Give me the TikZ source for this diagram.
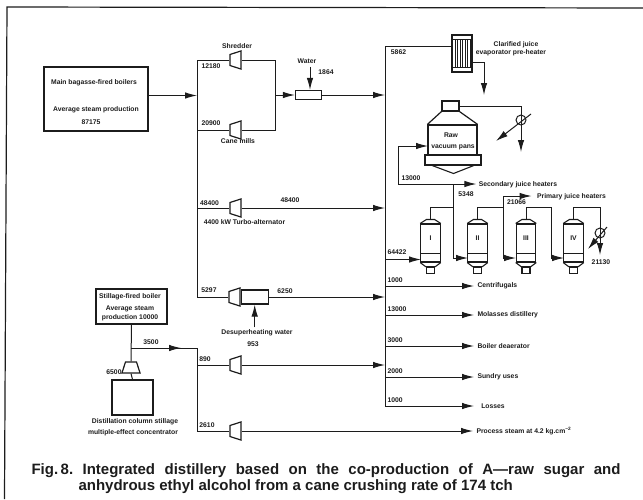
\documentclass[tikz,border=0pt]{standalone}
\usepackage{fontspec}
\setmainfont{Liberation Sans}
\usetikzlibrary{arrows.meta, shapes.geometric, calc}
\definecolor{cink}{HTML}{1C1C1C}
\tikzset{
  every picture/.style={line width=1pt, cink},
  pipe/.style={line width=1pt, draw=cink},
  flow/.style={pipe, -{Latex[length=12pt,width=6.5pt]}},
  plant/.style={draw=cink, line width=#1, inner sep=0pt, align=center},
  plant/.default=1pt,
  turbine/.style={trapezium, draw=cink, line width=1.2pt, trapezium angle=72, inner sep=0.5pt, minimum width=6pt, minimum height=11pt},
  hturbine/.style={turbine, rotate=90},
  lbl/.style={font=\fontsize{6.8}{8}\selectfont\bfseries, inner sep=0pt, align=center},
  dest/.style={lbl, anchor=west},
}
\begin{document}
\begin{tikzpicture}[x=1pt, y=-1pt]
  \useasboundingbox (0,0) rectangle (643,499);
  % frame
  \coordinate (frameTL) at (7,7);
  \coordinate (frameBL) at (4.5,499);
  \coordinate (frameTR) at (643,8);
  \draw[line width=1.2pt] (frameBL) -- (frameTL) -- (frameTR);

  % boilers and equipment
  \node[plant=1.5pt, minimum width=104, minimum height=64] (mainboiler) at (96,99) {};
  \node[lbl] at (94,83) {Main bagasse-fired boilers};
  \node[lbl] at (96,110) {Average steam production};
  \node[lbl] at (91,122) {87175};
  \node[hturbine] (shredder) at (235.5,60) {};
  \node[lbl] at (237,46) {Shredder};
  \node[hturbine] (mills) at (235.5,130) {};
  \node[lbl] at (238,141) {Cane mills};
  \node[plant=1.2pt, minimum width=26, minimum height=9] (mixer) at (308.5,95) {};
  \node[lbl] (water) at (307,61) {Water};
  \node[lbl] at (326,72) {1864};
  \node[hturbine] (alternator) at (235.5,208) {};
  \node[lbl] at (244.5,222) {4400 kW Turbo-alternator};
  \node[hturbine] (desup) at (234.5,297) {};
  \node[plant=1.2pt, minimum width=27, minimum height=14, anchor=west] (desupbody) at (desup.south) {};
  \node[lbl] (desupwater) at (257,333) {Desuperheating water};
  \node[lbl] at (253,344) {953};
  \node[plant=1.5pt, minimum width=71, minimum height=35] (stillboiler) at (131.5,306.5) {};
  \node[lbl] at (130,297) {Stillage-fired boiler};
  \node[lbl] at (130,309) {Average steam};
  \node[lbl] at (130,318) {production 10000};
  \node[turbine] (conturbine) at (131,367.5) {};
  \node[plant=1.3pt, minimum width=41, minimum height=35] (concentrator) at (132.5,397.5) {};
  \node[lbl] at (135,422) {Distillation column stillage};
  \node[lbl] at (133,433) {multiple-effect concentrator};
  \node[lbl] at (114,372) {6500};
  \node[hturbine] (turbineC) at (235.5,365) {};
  \node[hturbine] (turbineD) at (235.5,431) {};

  % main steam lines
  \coordinate (busAtop) at (197,60);
  \coordinate (busAbot) at (197,297);
  \coordinate (busBtop) at (385,46);
  \coordinate (busBbot) at (385,406);
  \coordinate (busCtap) at (131,348);
  \coordinate (busCtop) at (197,348);
  \coordinate (busCbot) at (197,431);
  \draw[pipe] (shredder.north) -- (busAtop) -- (busAbot) -- (desup.north);
  \draw[pipe] (mills.north) -- (mills.north -| busAtop);
  \draw[pipe] (alternator.north) -- (alternator.north -| busAtop);
  \draw[flow] (mainboiler.east |- 0,95.5) -- (197,95.5);
  \draw[pipe] (shredder.south) -- (275,60) -- (275,130) -- (mills.south);
  \draw[flow] (275,95) -- (mixer.west);
  \draw[flow] (water.south -| mixer) ++(1.5,3) -- ([xshift=1.5pt]mixer.north);
  \draw[flow] (mixer.east) -- (mixer.east -| busBtop);
  \draw[flow] (alternator.south) -- (alternator.south -| busBtop);
  \draw[flow] (desupbody.east) -- (desupbody.east -| busBtop);
  \draw[flow] (desupwater.north -| desupbody) ++(0,-2) -- (desupbody.south);
  \draw[flow] (turbineC.south) -- (turbineC.south -| busBtop);
  \draw[pipe] (busBtop) -- (busBbot);
  \draw[pipe] (stillboiler.south) -- (conturbine.north);
  \draw[pipe] (conturbine.south) -- (concentrator.north);
  \draw[pipe] (busCtap) -- (busCtop) -- (busCbot) -- (turbineD.north);
  \draw[flow] (busCtap) -- ++(50,0);
  \draw[pipe] (turbineC.north) -- (turbineC.north -| busCtop);

  % flow figures
  \node[lbl] at (211,66) {12180};
  \node[lbl] at (211,123) {20900};
  \node[lbl] at (209.5,203) {48400};
  \node[lbl] at (290,200) {48400};
  \node[lbl] at (209,290) {5297};
  \node[lbl] at (285,291) {6250};
  \node[lbl] at (151,342) {3500};
  \node[lbl] at (205,359) {890};
  \node[lbl] at (207,425) {2610};
  \node[lbl] at (398.5,52) {5862};

  % outlets of the second main
  \foreach \y/\val/\txt/\tag in {286/1000/Centrifugals/cen, 315/13000/Molasses distillery/mol, 346/3000/Boiler deaerator/dea, 377/2000/Sundry uses/sun, 406/1000/\ \ Losses/los}{
    \node[dest] (\tag) at (477,\y) {\txt};
    \node[lbl, anchor=west] at (387,\y-6) {\val};
    \draw[flow, shorten >=3pt] (\tag.west -| busBtop) -- (\tag.west);
  }
  \node[dest] (process) at (476,431) {Process steam at 4.2 kg.cm\textsuperscript{−2}};
  \draw[flow, shorten >=3pt] (turbineD.south) -- (process.west);

  % clarified juice heater
  \node[plant=1.2pt, minimum width=20, minimum height=37] (heater) at (462,53.5) {};
  \draw[line width=1pt] ([yshift=-5pt]heater.north west) -- ([yshift=-5pt]heater.north east);
  \draw[line width=1pt] ([yshift=5pt]heater.south west) -- ([yshift=5pt]heater.south east);
  \foreach \x in {455,457.5,...,470}
    \draw[line width=1pt] (\x,40) -- (\x,67);
  \node[lbl] at (516,44.5) {Clarified juice};
  \node[lbl] at (511,52.5) {evaporator pre-heater};
  \draw[pipe] (busBtop) -- (heater.west |- busBtop);
  \coordinate (heaterout) at (484,62);
  \draw[flow] (heater.east |- heaterout) -- (heaterout) -- (484,95);

  % vacuum pan
  \node[plant=1.2pt, minimum width=49, minimum height=30] (pan) at (452.5,140) {};
  \node[lbl] at (451,135) {Raw};
  \node[lbl] at (453,147) {vacuum pans};
  \node[plant=1.2pt, minimum width=17, minimum height=10] (panneck) at (450.5,106) {};
  \node[plant=1.2pt, minimum width=56, minimum height=10] (panbase) at (453,160) {};
  \draw[line width=1.2pt] (panneck.south west) -- (pan.north west);
  \draw[line width=1.2pt] (panneck.south east) -- (pan.north east);
  \draw[line width=1.1pt] ($(panbase.south west)+(8,0)$) -- (453.5,173.5) -- ($(panbase.south east)+(-8,0)$);
  \node[circle, draw=cink, line width=1pt, minimum size=10, inner sep=0pt] (cond) at (521,120) {};
  \draw[flow] (panneck.east) -- (521,106) -- (521,152);
  \draw[flow] (531,114) -- (496,141);
  \coordinate (panfeed) at (398,146);
  \coordinate (sectap) at (398,184);
  \draw[flow] (sectap) -- (panfeed) -- (428,146);
  \node[lbl] (secondary) at (518,185) {Secondary juice heaters};
  \draw[flow, shorten >=2pt] (sectap) -- (secondary.west |- sectap);
  \node[lbl] at (411,178) {13000};
  \node[lbl] at (466,194) {5348};
  \node[lbl] at (516.5,202) {21066};
  \node[lbl] (primary) at (571.5,197) {Primary juice heaters};

  % evaporator bodies
  \foreach \tag/\x/\num in {evI/430.5/I, evII/477.5/II, evIII/526/III, evIV/573.5/IV}{
    \node[draw=cink, line width=1.1pt, minimum width=19.5, minimum height=38, inner sep=0pt] (\tag) at (\x,243) {};
    \node[lbl] at (\x,238) {\num};
    \draw[line width=1.1pt] (\tag.north west) -- ($(\tag.north)+(-4,-4)$) -- ($(\tag.north)+(4,-4)$) -- (\tag.north east);
    \draw[line width=1.1pt] ([yshift=9pt]\tag.south west) -- ([yshift=9pt]\tag.south east);
    \draw[line width=1.1pt] (\tag.south west) -- ($(\tag.south)+(-5,4)$) -- ($(\tag.south)+(5,4)$) -- (\tag.south east);
    \node[draw=cink, line width=1.1pt, minimum width=8, minimum height=6, inner sep=0pt, anchor=north] (\tag nozzle) at ($(\tag.south)+(0,4)$) {};
  }
  \coordinate (evItap) at (453,207);
  \coordinate (evIItap) at (503,207);
  \coordinate (evIIItap) at (551,207);
  \draw[flow] (385,259.5) -- (421,259.5);
  \node[lbl] at (397,252) {64422};
  \draw[pipe] ($(evI.north)+(0,-4)$) |- (evItap);
  \draw[pipe] (453,184) -- (evItap);
  \draw[flow] (evItap) -- (453,258) -- (468,258);
  \draw[pipe] ($(evII.north)+(0,-4)$) |- (evIItap);
  \draw[flow, shorten >=5pt] (evIItap) -- (503,196) -- (primary.west |- 0,196);
  \draw[flow] (evIItap) -- (503,258) -- (516,258);
  \draw[pipe] ($(evIII.north)+(0,-4)$) |- (evIIItap);
  \draw[flow] (evIIItap) -- (551,258) -- (564,258);
  \draw[flow] ($(evIV.north)+(0,-4)$) |- (600,207) -- (600,255);
  \node[circle, draw=cink, line width=1pt, minimum size=10, inner sep=0pt] (condIV) at (600,233) {};
  \draw[flow] (607,227) -- (588,249);
  \node[lbl] at (601,262) {21130};

  % caption
  \node[anchor=north west, inner sep=0pt, align=left, font=\fontsize{15}{16}\selectfont\bfseries] (caption) at (31,463) {\makebox[589pt][s]{\mbox{Fig.\,8.} Integrated distillery based on the co-production of A—raw sugar and}\\\hspace*{47pt}anhydrous ethyl alcohol from a cane crushing rate of 174 tch};
\end{tikzpicture}
\end{document}
